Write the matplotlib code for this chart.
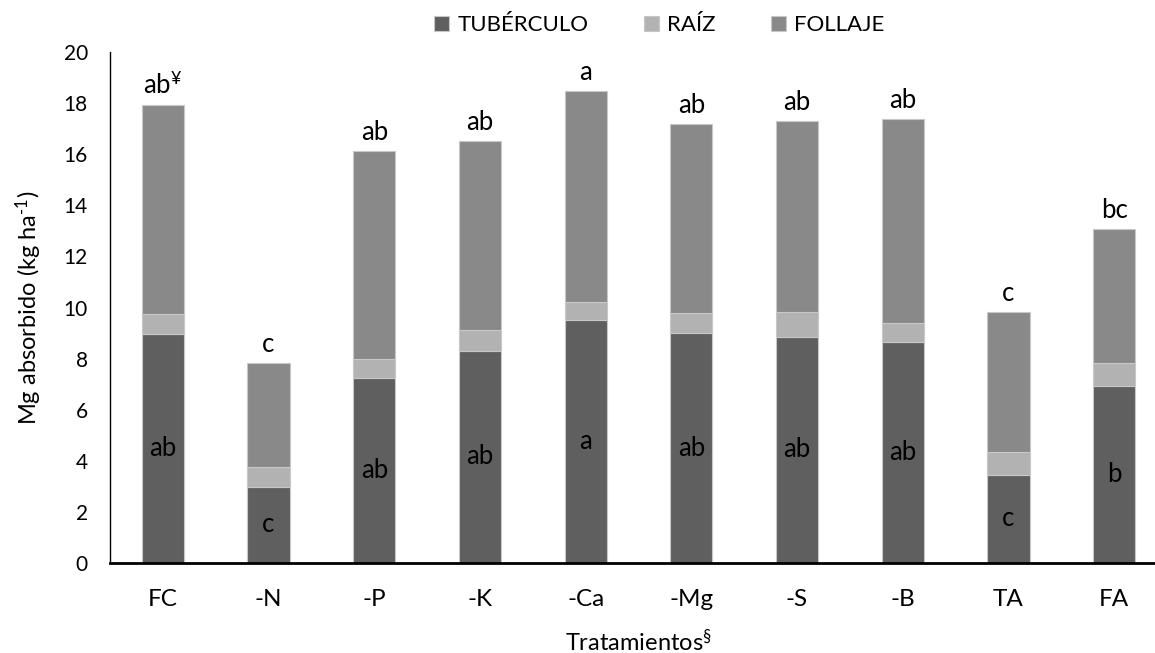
import matplotlib
matplotlib.use("Agg")
import matplotlib.pyplot as plt
import numpy as np

categories = ["FC", "-N", "-P", "-K", "-Ca", "-Mg", "-S", "-B", "TA", "FA"]
tuberculo = [8.97, 2.99, 7.24, 8.30, 9.50, 9.00, 8.85, 8.66, 3.46, 6.91]
raiz = [0.77, 0.76, 0.73, 0.83, 0.70, 0.80, 0.99, 0.73, 0.88, 0.92]
follaje = [8.17, 4.09, 8.17, 7.37, 8.27, 7.38, 7.44, 8.00, 5.50, 5.23]
letters_top = ["ab$^{¥}$", "c", "ab", "ab", "a", "ab", "ab", "ab", "c", "bc"]
letters_tuber = ["ab", "c", "ab", "ab", "a", "ab", "ab", "ab", "c", "b"]
series_names = ["TUBÉRCULO", "RAÍZ", "FOLLAJE"]

plt.rcParams["font.family"] = ["Lato", "DejaVu Sans"]
plt.rcParams["mathtext.fontset"] = "custom"
plt.rcParams["mathtext.rm"] = "Lato"
plt.rcParams["mathtext.it"] = "Lato:italic"
plt.rcParams["mathtext.bf"] = "Lato:bold"

W, H = 1155, 653
fig = plt.figure(figsize=(W / 100, H / 100), dpi=100)
left = 110 / W
right = 1167 / W
bottom = 1 - 563 / H
top = 1 - 52 / H
ax = fig.add_axes([left, bottom, right - left, top - bottom])

x = np.arange(len(categories))
t = np.array(tuberculo)
r = np.array(raiz)
f = np.array(follaje)
width = 0.4
edge = "#C8C8C8"
b1 = ax.bar(x, t, width, color="#5F5F5F", edgecolor=edge, linewidth=0.8, label=series_names[0])
b2 = ax.bar(x, r, width, bottom=t, color="#B2B2B2", edgecolor=edge, linewidth=0.8, label=series_names[1])
b3 = ax.bar(x, f, width, bottom=t + r, color="#898989", edgecolor=edge, linewidth=0.8, label=series_names[2])

ax.set_xlim(-0.5, 9.5)
ax.set_ylim(0, 20)
ax.set_yticks(np.arange(0, 21, 2))
ax.set_xticks(x)
ax.set_xticklabels(categories)
ax.tick_params(axis="both", length=0, colors="black")
ax.tick_params(axis="y", labelsize=15, pad=16)
ax.tick_params(axis="x", labelsize=17.5, pad=19)

for s in ["top", "right"]:
    ax.spines[s].set_visible(False)
ax.spines["left"].set_linewidth(1.0)
ax.spines["bottom"].set_linewidth(2.0)
ax.spines["left"].set_color("black")
ax.spines["bottom"].set_color("black")

total = t + r + f
for i in range(len(categories)):
    ax.annotate(letters_top[i], (x[i], total[i]), xytext=(0, 11), textcoords="offset pixels",
                ha="center", va="baseline", fontsize=18.5, color="black")
    ax.text(x[i], t[i] / 2, letters_tuber[i], ha="center", va="center", fontsize=18.5, color="black")

ax.set_ylabel("Mg absorbido (kg ha$^{\\text{-1}}$)", fontsize=17, labelpad=14)
fig.text(638 / W, 1 - 642 / H, "Tratamientos$^{\\S}$", ha="center", va="center", fontsize=17)

leg = fig.legend(handles=[b1, b2, b3], labels=series_names, loc="center", ncol=3,
                 bbox_to_anchor=(659 / W, 1 - 25 / H), frameon=False, fontsize=16,
                 handlelength=0.68, handleheight=0.68, handletextpad=0.35, columnspacing=2.5)

fig.savefig("out.png", dpi=100)
